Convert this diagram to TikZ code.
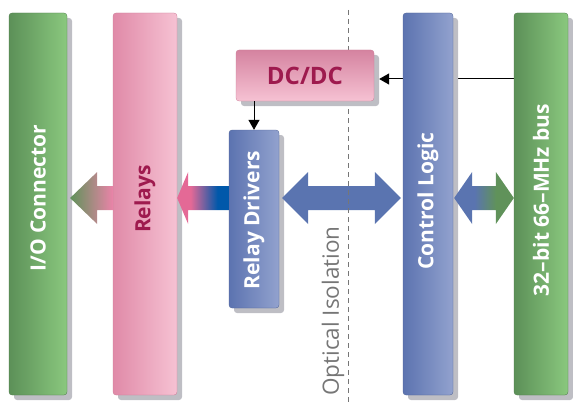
\documentclass[tikz,border=0pt]{standalone}
\usepackage{fontspec}
\setmainfont{Open Sans}
\usetikzlibrary{shadows,arrows.meta,calc}
\pgfdeclarelayer{bg}
\pgfsetlayers{bg,main}
\definecolor{gD}{RGB}{92,144,88}
\definecolor{gL}{RGB}{138,200,126}
\definecolor{pD}{RGB}{224,138,168}
\definecolor{pL}{RGB}{246,194,211}
\definecolor{bD}{RGB}{92,115,176}
\definecolor{bL}{RGB}{146,162,206}
\definecolor{shd}{RGB}{190,190,196}
\definecolor{magtxt}{RGB}{158,26,78}
\definecolor{pinkA}{RGB}{228,105,150}
\definecolor{blueDeep}{RGB}{0,88,170}
\definecolor{blueA}{RGB}{90,116,176}
\definecolor{greenA}{RGB}{96,146,90}
\definecolor{isogray}{RGB}{118,118,118}
\pgfdeclarehorizontalshading{pinkblue}{100bp}{color(0bp)=(pinkA); color(38bp)=(pinkA); color(64bp)=(blueDeep); color(100bp)=(blueDeep)}
\pgfdeclarehorizontalshading{bluegreen}{100bp}{color(0bp)=(blueA); color(42bp)=(blueA); color(60bp)=(greenA); color(100bp)=(greenA)}
\tikzset{
  bar/.style={rounded corners=3pt, inner sep=0pt,
    drop shadow={shadow xshift=5pt, shadow yshift=-5pt, fill=shd, opacity=1}},
  greenbar/.style={bar, left color=gD, right color=gL, draw=gD!85!black, line width=0.3pt},
  pinkbar/.style={bar, left color=pD, right color=pL, draw=pD!90!black, line width=0.3pt},
  bluebar/.style={bar, left color=bD, right color=bL, draw=bD!85!black, line width=0.3pt},
  lbl/.style={rotate=90, font=\fontsize{21}{25}\selectfont\bfseries, inner sep=0pt},
  thinarrow/.style={line width=1pt, -{Triangle[length=10pt,width=11pt]}},
}
\begin{document}
\begin{tikzpicture}[x=1pt,y=-1pt]
\useasboundingbox (0,0) rectangle (573,404);
% boxes
\node[greenbar, minimum width=58pt, minimum height=382pt] (io) at (38,204) {};
\node[pinkbar, minimum width=64pt, minimum height=382pt] (relays) at (145,204) {};
\node[bluebar, minimum width=50pt, minimum height=178pt] (drivers) at (254,219) {};
\node[bluebar, minimum width=50pt, minimum height=382pt] (ctrl) at (428,204) {};
\node[greenbar, minimum width=54pt, minimum height=382pt] (bus) at (541,204) {};
% labels
\node[lbl, text=white] (iolbl) at (38,198) {I/O Connector};
\node[lbl, text=magtxt] (relayslbl) at (145,199) {Relays};
\node[lbl, text=white] (driverslbl) at (254,220) {Relay Drivers};
\node[lbl, text=white] (ctrllbl) at (428,201) {Control Logic};
\node[lbl, text=white] (buslbl) at (541,200) {32–bit 66–MHz bus};
% arrow level
\coordinate (ay) at (0,198);
% Relays -> I/O Connector
\shade[left color=greenA, right color=pinkA!70!pL]
  let \p1=([xshift=3pt]io.east |- ay), \p2=(relays.west |- ay) in
  (\x1,\y1) -- ++(27pt,26pt) -- ++(0,-14pt) -- (\x2,\y1+12pt) -- (\x2,\y1-12pt)
  -- (\x1+27pt,\y1-12pt) -- ++(0,-14pt) -- cycle;
% Relay Drivers -> Relays
\shade[shading=pinkblue]
  let \p1=(relays.east |- ay), \p2=(drivers.west |- ay) in
  (\x1,\y1) -- ++(11pt,26pt) -- ++(0,-14pt) -- (\x2,\y1+12pt) -- (\x2,\y1-12pt)
  -- (\x1+11pt,\y1-12pt) -- ++(0,-14pt) -- cycle;
% Relay Drivers <-> Control Logic
\fill[blueA]
  let \p1=([xshift=3pt]drivers.east |- ay), \p2=([xshift=-2pt]ctrl.west |- ay) in
  (\x1,\y1) -- ++(26pt,26pt) -- ++(0,-14pt) -- (\x2-26pt,\y1+12pt) -- ++(0,14pt)
  -- (\x2,\y1) -- ++(-26pt,-26pt) -- ++(0,14pt) -- (\x1+26pt,\y1-12pt) -- ++(0,-14pt) -- cycle;
% Control Logic <-> bus
\shade[shading=bluegreen]
  let \p1=([xshift=1pt]ctrl.east |- ay), \p2=(bus.west |- ay) in
  (\x1,\y1) -- ++(18pt,26pt) -- ++(0,-14pt) -- (\x2-18pt,\y1+12pt) -- ++(0,14pt)
  -- (\x2,\y1) -- ++(-18pt,-26pt) -- ++(0,14pt) -- (\x1+18pt,\y1-12pt) -- ++(0,-14pt) -- cycle;
% optical isolation
\coordinate (isoT) at (348,10);
\coordinate (isoB) at (348,404);
\draw[isogray, line width=0.8pt, dash pattern=on 5pt off 4pt] (isoT) -- (isoB);
\node[rotate=90, text=isogray, font=\fontsize{22.5}{27}\selectfont, inner sep=0pt] (isolbl) at (333,311) {Optical Isolation};
% DC/DC
\node[bar, top color=pD!95!black, bottom color=pL, draw=pD!90!black, line width=0.3pt,
      minimum width=138pt, minimum height=51pt, text=magtxt,
      font=\fontsize{24}{28}\selectfont\bfseries] (dcdc) at (305,75.5) {DC/DC};
\draw[thinarrow] (drivers.north |- dcdc.south) -- (drivers.north);
\coordinate (dcy) at (0,79);
\begin{pgfonlayer}{bg}
\draw[thinarrow] (bus.west |- dcy) -- ([xshift=5pt]dcdc.east |- dcy);
\end{pgfonlayer}
\end{tikzpicture}
\end{document}
